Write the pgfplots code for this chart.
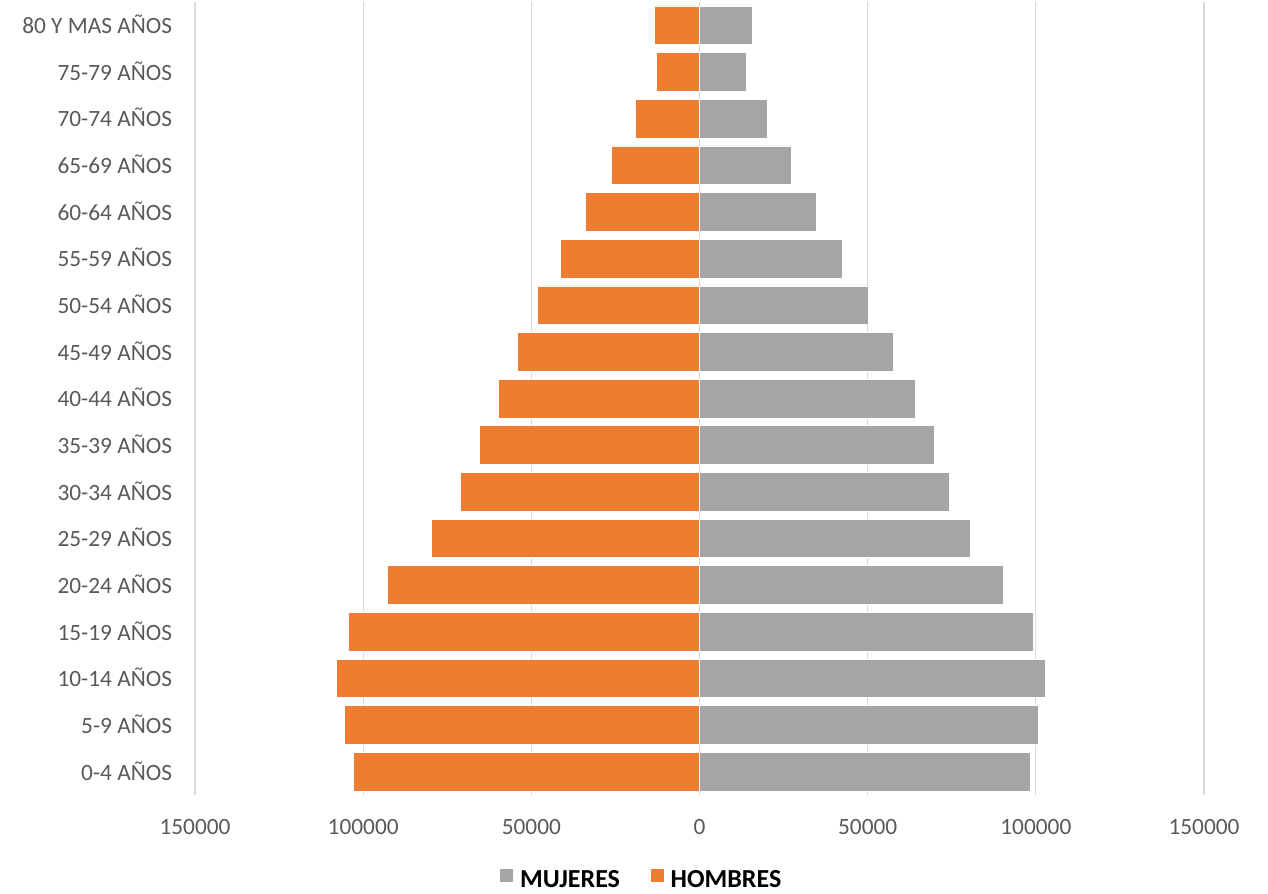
\documentclass[border=0pt]{standalone}
\usepackage{pgfplots}
\pgfplotsset{compat=1.18}
\usepackage{fontspec}
\setmainfont{Carlito}
\definecolor{mujeres}{HTML}{A5A5A5}
\definecolor{hombres}{HTML}{ED7D31}
\definecolor{ticktext}{HTML}{595959}
\definecolor{gridc}{HTML}{D9D9D9}
\begin{document}
\begin{tikzpicture}
\path[use as bounding box] (0,0) rectangle (951pt,669.75pt);
\begin{axis}[
  at={(146.25pt,73.5pt)}, anchor=south west,
  scale only axis,
  width=756.75pt, height=594.75pt,
  xbar, bar width=0.83,
  xmin=-150000, xmax=150000,
  ymin=-0.5, ymax=16.5,
  scaled ticks=false,
  xtick={-150000,-100000,-50000,0,50000,100000,150000},
  xticklabels={150000,100000,50000,0,50000,100000,150000},
  ytick={0,...,16},
  yticklabels={0-4 AÑOS,5-9 AÑOS,10-14 AÑOS,15-19 AÑOS,20-24 AÑOS,25-29 AÑOS,30-34 AÑOS,35-39 AÑOS,40-44 AÑOS,45-49 AÑOS,50-54 AÑOS,55-59 AÑOS,60-64 AÑOS,65-69 AÑOS,70-74 AÑOS,75-79 AÑOS,80 Y MAS AÑOS},
  xmajorgrids, grid style={gridc, line width=0.9pt},
  axis line style={draw=none},
  major tick style={draw=none},
  tick label style={font=\fontsize{17.5}{21}\selectfont, text=ticktext, inner sep=0pt},
  xticklabel style={anchor=base, yshift=-29.5pt},
  yticklabel style={anchor=base east, xshift=-12.75pt, yshift=-6.25pt},
  legend style={at={(0.443,-0.107)}, anchor=center, draw=none, fill=none,
    font=\fontsize{19.5}{23}\selectfont\bfseries, text=black,
    legend columns=2,
    /tikz/every even column/.append style={column sep=21pt}},
  legend cell align=left,
]
\addplot[fill=mujeres, draw=white, line width=0.5pt, bar shift=0pt,
  legend image code/.code={\fill[mujeres, draw=none] (0pt,-1.5pt) rectangle (10pt,8.5pt); \path[draw=none, fill=none] (0pt,0pt) rectangle (13pt,0.1pt);}]
coordinates {
(98300,0) (100800,1) (102900,2) (99300,3) (90400,4) (80500,5) (74300,6) (69800,7)
(64150,8) (57500,9) (50100,10) (42600,11) (34850,12) (27400,13) (20150,14) (13900,15) (15600,16)
};
\addlegendentry{MUJERES}
\addplot[fill=hombres, draw=white, line width=0.5pt, bar shift=0pt,
  legend image code/.code={\fill[hombres, draw=none] (0pt,-1.5pt) rectangle (10pt,8.5pt); \path[draw=none, fill=none] (0pt,0pt) rectangle (13pt,0.1pt);}]
coordinates {
(-102900,0) (-105500,1) (-107900,2) (-104300,3) (-92900,4) (-79650,5) (-71100,6) (-65500,7)
(-59900,8) (-54100,9) (-48200,10) (-41300,11) (-33900,12) (-26200,13) (-19070,14) (-12800,15) (-13400,16)
};
\addlegendentry{HOMBRES}
\end{axis}
\end{tikzpicture}
\end{document}
